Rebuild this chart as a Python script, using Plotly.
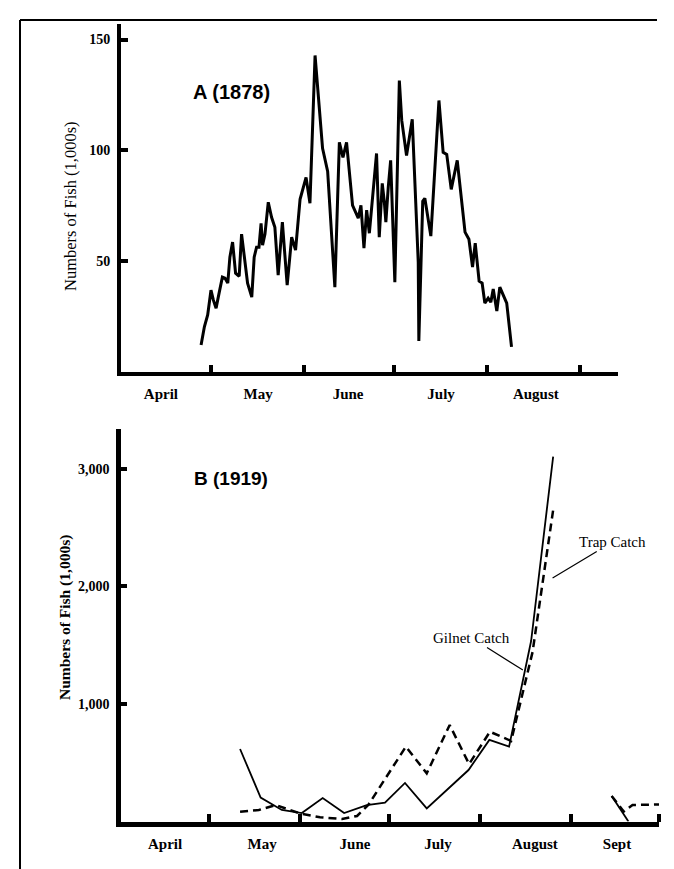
import plotly.graph_objects as go

# ---------------- data ----------------
# Panel A (1878): days after 1 April, catch in thousands of fish
days_1878 = [26.7, 27.8, 28.9, 30.0, 30.8, 31.7, 32.7, 33.8, 34.7, 35.6,
             36.3, 37.2, 38.2, 39.4, 40.2, 41.1, 42.2, 43.6, 44.4, 45.2,
             46.0, 46.7, 47.2, 48.0, 49.1, 50.2, 51.3, 52.4, 53.8, 55.4,
             56.9, 58.2, 59.7, 61.7, 63.0, 64.7, 65.6, 67.2, 68.9, 71.3,
             72.8, 74.0, 75.2, 77.2, 79.1, 80.0, 81.0, 81.9, 82.8, 83.6,
             85.2, 86.1, 87.1, 87.8, 88.3, 89.1, 89.9, 91.3, 92.8, 93.6,
             95.2, 97.1, 99.1, 99.3, 100.6, 101.3, 103.3, 106.0, 107.4, 108.6,
             110.1, 112.1, 114.7, 116.0, 117.2, 118.1, 119.4, 120.4, 121.3, 122.4,
             123.3, 124.1, 125.3, 126.3, 127.4, 128.6, 130.2]
fish_1878 = [12.2, 20.4, 25.7, 36.9, 32.4, 28.8, 35.6, 42.8, 42.3, 40.1,
             51.8, 58.6, 44.6, 43.2, 62.2, 51.8, 40.1, 33.8, 51.8, 56.3,
             56.3, 67.1, 57.2, 62.2, 76.6, 69.8, 65.3, 43.7, 67.6, 39.2,
             60.8, 55.0, 77.9, 87.8, 76.1, 142.8, 127.0, 100.9, 90.5, 38.3,
             103.6, 96.8, 103.6, 75.2, 69.4, 75.2, 55.9, 73.0, 62.6, 73.9,
             98.6, 60.8, 85.1, 76.6, 67.6, 83.3, 95.5, 40.5, 131.5, 113.5,
             97.7, 114.0, 49.5, 14.0, 77.0, 78.4, 61.3, 122.5, 99.1, 98.2,
             82.4, 95.5, 63.1, 59.9, 47.3, 58.1, 41.0, 40.1, 31.1, 33.3,
             31.5, 37.4, 27.5, 38.3, 34.7, 31.1, 11.3]

# Panel B (1919): days after 1 April, catch in thousands of fish (None = gap)
gilnet_days = [40.5, 47.5, 54.7, 61.5, 68.6, 75.9, 83.6, 89.8, 96.6, 104.0,
               118.2, 125.3, 132.0, 139.5, 147.0, None, 166.9, 172.6]
gilnet_fish = [617, 203, 98, 72, 200, 72, 140, 160, 328, 112,
               438, 694, 637, 1536, 3105, None, 217, 0]
trap_days = [40.5, 46.9, 52.7, 60.9, 67.7, 75.2, 80.3, 84.1, 96.9, 104.0,
             111.8, 118.4, 125.5, 132.7, 140.0, 147.0, None, 166.9, 171.0, 174.0, 183.0]
trap_fish = [83, 98, 140, 68, 36, 21, 47, 140, 637, 410,
             821, 489, 764, 685, 1443, 2651, None, 217, 85, 140, 145]

# month axis: boundaries (ticks) and label positions (days after 1 April)
month_starts_a = [30, 61, 91, 122, 153]
month_label_pos_a = [13.3, 45.7, 75.7, 106.7, 138.3]
month_names_a = ["April", "May", "June", "July", "August"]
month_starts_b = [30, 61, 91, 122, 153, 183]
month_label_pos_b = [15, 48, 79.6, 107.8, 140.8, 168.7]
month_names_b = ["April", "May", "June", "July", "August", "Sept"]

yticks_a = [50, 100, 150]
yticks_b = [1000, 2000, 3000]
yticklabels_b = ["1,000", "2,000", "3,000"]

# ---------------- figure ----------------
# the page body adds an 8px margin, so the figure is 8px smaller each way
OFF = 8
W, H = 674 - OFF, 869 - OFF
SERIF = "Liberation Serif"
SANS = "Liberation Sans"


def px(x):
    return (x - OFF) / W


def py(y):
    return (H - (y - OFF)) / H


fig = go.Figure()
fig.add_trace(go.Scatter(x=days_1878, y=fish_1878, mode="lines",
                         line=dict(color="black", width=3),
                         xaxis="x", yaxis="y", showlegend=False))
fig.add_trace(go.Scatter(x=gilnet_days, y=gilnet_fish, mode="lines",
                         line=dict(color="black", width=1.8),
                         connectgaps=False, xaxis="x2", yaxis="y2",
                         showlegend=False, name="Gilnet Catch"))
fig.add_trace(go.Scatter(x=trap_days, y=trap_fish, mode="lines",
                         line=dict(color="black", width=2.5, dash="8px,5px"),
                         connectgaps=False, xaxis="x2", yaxis="y2",
                         showlegend=False, name="Trap Catch"))

month_font = dict(family=SERIF, size=15, color="black", weight=700)
num_font = dict(family=SERIF, size=14, color="black", weight=700)

common_x = dict(showgrid=False, zeroline=False, showline=True, linecolor="black",
                ticks="", tickmode="array", tickfont=month_font,
                ticklabelstandoff=5, fixedrange=True)
common_y = dict(showgrid=False, zeroline=False, showline=True, linecolor="black",
                ticks="inside", tickcolor="black", tickmode="array",
                tickfont=num_font, ticklabelstandoff=4, fixedrange=True)

fig.update_layout(
    width=W, height=H,
    margin=dict(l=0, r=0, t=0, b=0),
    paper_bgcolor="white", plot_bgcolor="white",
    xaxis=dict(domain=[px(121), px(618)], range=[0, 165.7], anchor="y",
               linewidth=4, tickvals=month_label_pos_a, ticktext=month_names_a,
               minor=dict(tickmode="array", tickvals=month_starts_a, ticks="inside",
                          ticklen=7, tickwidth=4, tickcolor="black"),
               **common_x),
    yaxis=dict(domain=[py(372), py(24)], range=[0, 157], anchor="x",
               linewidth=4, ticklen=7, tickwidth=4, tickvals=yticks_a,
               ticktext=[str(v) for v in yticks_a], **common_y),
    xaxis2=dict(domain=[px(121), px(659)], range=[0, 183], anchor="y2",
                linewidth=4.5, tickvals=month_label_pos_b, ticktext=month_names_b,
                minor=dict(tickmode="array", tickvals=month_starts_b, ticks="inside",
                           ticklen=8, tickwidth=4, tickcolor="black"),
                **common_x),
    yaxis2=dict(domain=[py(821.5), py(429)], range=[0, 3340], anchor="x2",
                linewidth=4.5, ticklen=6, tickwidth=4, tickvals=yticks_b,
                ticktext=yticklabels_b, **common_y),
)

centered = dict(xref="paper", yref="paper", xanchor="center", yanchor="middle",
                showarrow=False)
annotations = [
    dict(text="A (1878)", x=px(231), y=py(92),
         font=dict(family=SANS, size=20, color="black", weight=700), **centered),
    dict(text="B (1919)", x=px(231), y=py(479),
         font=dict(family=SANS, size=19, color="black", weight=700), **centered),
    dict(text="Numbers of Fish (1,000s)", x=px(70), y=py(206), textangle=-90,
         font=dict(family=SERIF, size=16.5, color="black"), **centered),
    dict(text="Numbers of Fish (1,000s)", x=px(65), y=py(618), textangle=-90,
         font=dict(family=SERIF, size=15.5, color="black", weight=700), **centered),
    dict(text="Gilnet Catch", x=136.7, y=1289, xref="x2", yref="y2",
         ax=-51, ay=-32, showarrow=True, arrowhead=0, arrowwidth=1.2, arrowcolor="black",
         font=dict(family=SERIF, size=15, color="black")),
    dict(text="Trap Catch", x=146.8, y=2072, xref="x2", yref="y2",
         ax=60, ay=-36, showarrow=True, arrowhead=0, arrowwidth=1.2, arrowcolor="black",
         font=dict(family=SERIF, size=15, color="black")),
]
fig.update_layout(annotations=annotations)

# page frame
fig.add_shape(type="line", xref="paper", yref="paper", x0=px(20), x1=px(20),
              y0=0, y1=py(20), line=dict(color="black", width=2))
fig.add_shape(type="line", xref="paper", yref="paper", x0=px(20), x1=px(657),
              y0=py(20), y1=py(20), line=dict(color="black", width=2))

fig.write_html("out.html")
